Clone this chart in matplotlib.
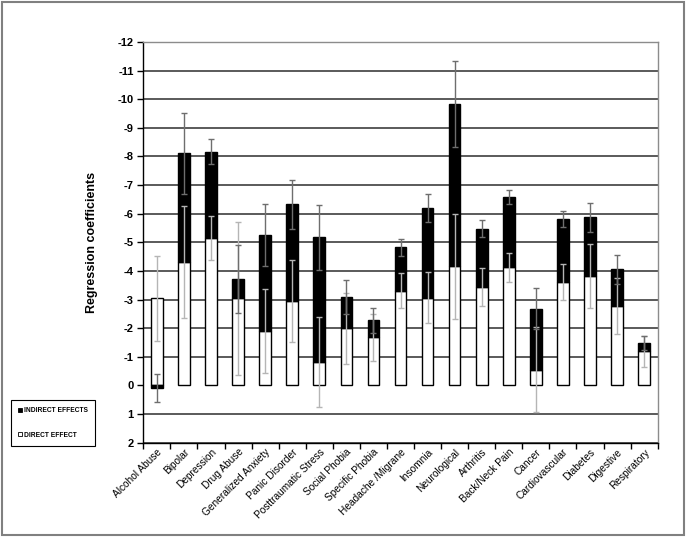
import matplotlib
matplotlib.use("Agg")
import matplotlib.pyplot as plt
from matplotlib.patches import Patch, Rectangle
import numpy as np

plt.rcParams['font.family'] = ['Liberation Sans', 'DejaVu Sans']
plt.rcParams['axes.unicode_minus'] = False

# Data
conditions = ["Alcohol Abuse", "Bipolar", "Depression", "Drug Abuse", "Generalized Anxiety",
              "Panic Disorder", "Posttraumatic Stress", "Social Phobia", "Specific Phobia",
              "Headache /Migrane", "Insomnia", "Neurological", "Arthritis", "Back/Neck Pain",
              "Cancer", "Cardiovascular", "Diabetes", "Digestive", "Respiratory"]
direct = [-3.04, -4.30, -5.16, -3.04, -1.91, -2.95, -0.82, -2.00, -1.68, -3.31,
          -3.07, -4.16, -3.45, -4.13, -0.55, -3.60, -3.81, -2.78, -1.19]
indirect = [0.09, -3.81, -3.01, -0.67, -3.34, -3.38, -4.35, -1.08, -0.60, -1.52,
            -3.12, -5.67, -2.03, -2.45, -2.13, -2.22, -2.07, -1.28, -0.29]
direct_err = [1.50, 1.96, 0.77, 2.68, 1.47, 1.43, 1.57, 1.24, 0.83, 0.61,
              0.90, 1.83, 0.66, 0.51, 1.48, 0.63, 1.12, 0.99, 0.53]
indirect_err = [0.50, 1.42, 0.44, 1.18, 1.08, 0.85, 1.14, 0.60, 0.43, 0.29,
                0.49, 1.51, 0.29, 0.24, 0.72, 0.29, 0.51, 0.51, 0.24]

x = np.arange(len(conditions))
d = np.array(direct)
ind = np.array(indirect)
# negative indirect effects stack on top of the direct bar, positive ones start at 0
ind_bottom = np.where(ind < 0, d, 0.0)
ind_top = ind_bottom + ind

fig = plt.figure(figsize=(6.89, 5.38), dpi=100)
ax = fig.add_axes([143.3 / 689, 1 - 442.7 / 538, (657.7 - 143.3) / 689, (442.7 - 42) / 538])

ax.bar(x, d, width=0.43, color='white', edgecolor='black', linewidth=1, zorder=3)
ax.bar(x, ind, bottom=ind_bottom, width=0.43, color='black', edgecolor='black',
       linewidth=1, zorder=3)
ax.errorbar(x, d, yerr=direct_err, fmt='none', ecolor='#b5b5b5', elinewidth=1,
            capsize=2, capthick=1, zorder=4)
ax.errorbar(x, ind_top, yerr=indirect_err, fmt='none', ecolor='#6e6e6e', elinewidth=1,
            capsize=2, capthick=1, zorder=4)

ax.set_xlim(-0.5, len(conditions) - 0.5)
ax.set_ylim(2, -12)
ax.set_yticks(range(-12, 3))
ax.set_yticklabels([str(v) for v in range(-12, 3)], fontsize=8, fontweight='bold')
ax.tick_params(axis='y', length=4, width=1, pad=3)

ax.grid(axis='y', color='#2e2e2e', linewidth=1.1, zorder=0)
for tick, val in zip(ax.yaxis.get_major_ticks(), range(-12, 3)):
    if val == 0:
        tick.gridline.set_visible(False)

ax.set_xticks(x)
ax.set_xticklabels(conditions, rotation=45, ha='right', rotation_mode='anchor', fontsize=7.3)
ax.tick_params(axis='x', which='major', length=0, pad=3)
ax.set_xticks(np.arange(-0.5, len(conditions)), minor=True)
ax.tick_params(axis='x', which='minor', length=4, width=1)

ax.set_ylabel("Regression coefficients", fontsize=9, fontweight='bold', labelpad=14)

for side in ['left', 'bottom']:
    ax.spines[side].set_color('black')
    ax.spines[side].set_linewidth(1)
for side in ['top', 'right']:
    ax.spines[side].set_color('#8c8c8c')
    ax.spines[side].set_linewidth(1)

handles = [Patch(facecolor='black', edgecolor='black', linewidth=0.6),
           Patch(facecolor='white', edgecolor='black', linewidth=0.6)]
leg = fig.legend(handles, ["INDIRECT EFFECTS", "DIRECT EFFECT"],
                 loc='upper left', bbox_to_anchor=(11 / 689, 1 - 400 / 538),
                 prop={'size': 4.8, 'weight': 'bold'}, handlelength=0.6, handleheight=0.6,
                 handletextpad=0.2, labelspacing=2.6, borderpad=1.1, borderaxespad=0,
                 fancybox=False, edgecolor='black', framealpha=1)
leg.get_frame().set_linewidth(0.8)

fig.patches.append(Rectangle((2 / 689, 3 / 538), 682 / 689, 533 / 538, transform=fig.transFigure,
                             fill=False, edgecolor='#808080', linewidth=1.5))

fig.savefig("out.png", dpi=100)
